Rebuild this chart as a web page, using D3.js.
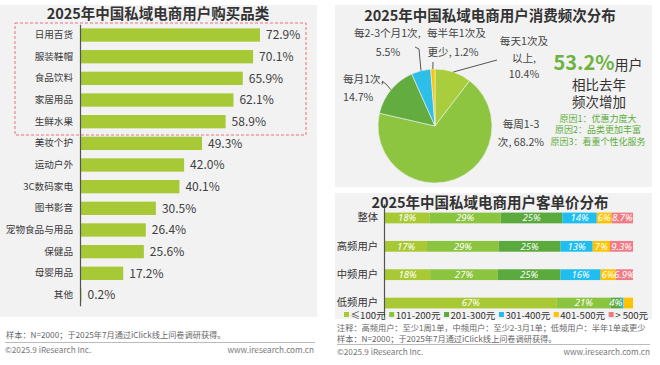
<!DOCTYPE html>
<html><head><meta charset="utf-8">
<script src="https://cdn.jsdelivr.net/npm/d3@7"></script>
<style>
body{margin:0;background:#fff}
svg{display:block;font-family:"Noto Sans CJK SC","Noto Sans",sans-serif}
</style>
</head><body><svg id="c" width="660" height="365"></svg>
<script>
// ---------- data ----------
const categories = ["日用百货","服装鞋帽","食品饮料","家居用品","生鲜水果","美妆个护","运动户外","3C数码家电","图书影音","宠物食品与用品","保健品","母婴用品","其他"];
const shares = [72.9,70.1,65.9,62.1,58.9,49.3,42.0,40.1,30.5,26.4,25.6,17.2,0.2];

const freqLabels = ["每天1次及以上","每周1-3次","每月1次","每2-3个月1次","每半年1次及更少"];
const freqValues = [10.4,68.2,14.7,5.5,1.2];

const groups = ["整体","高频用户","中频用户","低频用户"];
const priceBands = ["≤100元","101-200元","201-300元","301-400元","401-500元","> 500元"];
const price_le100   = [18,17,18,67];
const price_101_200 = [29,29,27,21];
const price_201_300 = [25,25,25,4];
const price_301_400 = [14,13,16,1];
const price_401_500 = [6,7,6,3.7];
const price_gt500   = [8.7,9.3,6.9,0];

const svg = d3.select("#c");
const GRAY = "#f2f2f2";

// ---------- panels ----------
svg.append("rect").attr("x",0).attr("y",5).attr("width",317).attr("height",312).attr("fill",GRAY);
svg.append("rect").attr("x",335).attr("y",5).attr("width",317).attr("height",182).attr("fill",GRAY);
svg.append("rect").attr("x",335).attr("y",193).attr("width",317).attr("height",126).attr("fill",GRAY);

function title(x,y,t){
  svg.append("text").attr("x",x).attr("y",y).attr("text-anchor","middle")
    .attr("font-size",14.5).attr("font-weight",700).attr("fill","#333").text(t);
}

// ---------- left: bar chart ----------
const xL = d3.scaleLinear().domain([0,100]).range([81,326.5]);
const yL = d3.scaleBand().domain(categories).range([24.2,305.8]).paddingInner(0.385).paddingOuter(0.1925);

svg.append("rect").attr("x",15).attr("y",23).attr("width",291).attr("height",112)
  .attr("fill","none").attr("stroke","#e8737f").attr("stroke-width",1).attr("stroke-dasharray","3,2");

svg.append("g").selectAll("rect").data(categories).join("rect")
  .attr("x",xL(0)).attr("y",d=>yL(d)).attr("height",yL.bandwidth())
  .attr("width",(d,i)=>xL(shares[i])-xL(0)).attr("fill","#a7c935");

svg.append("g").selectAll("text").data(categories).join("text")
  .attr("x",(d,i)=>xL(shares[i])+6).attr("y",d=>yL(d)+yL.bandwidth()/2)
  .attr("dy","0.36em").attr("font-size",12).attr("fill","#404040")
  .text((d,i)=>shares[i].toFixed(1)+"%");

const axL = svg.append("g").attr("transform","translate(80,0)")
  .call(d3.axisLeft(yL).tickSize(0).tickPadding(7));
axL.select(".domain").attr("stroke","#555").attr("stroke-width",1.2);
axL.selectAll("text").attr("font-size",9.6).attr("fill","#3a3a3a")
  .attr("font-family",'"Noto Sans CJK SC",sans-serif');

title(158,19,"2025年中国私域电商用户购买品类");

// left footer
svg.append("text").attr("x",6).attr("y",338).attr("font-size",8.2).attr("fill","#666")
  .text("样本：N=2000；于2025年7月通过iClick线上问卷调研获得。");
svg.append("line").attr("x1",5).attr("x2",315).attr("y1",342.5).attr("y2",342.5).attr("stroke","#bbb");
svg.append("text").attr("x",5).attr("y",353).attr("font-size",8.2).attr("fill","#777").text("©2025.9 iResearch Inc.");
svg.append("text").attr("x",314).attr("y",353).attr("text-anchor","end").attr("font-size",8.2).attr("fill","#777").text("www.iresearch.com.cn");

// ---------- right top: pie ----------
title(490,21,"2025年中国私域电商用户消费频次分布");
const pieColors = ["#a9cd3c","#8dc540","#63ad40","#2dbfe8","#fcc500"];
const cx = 435, cy = 126, R = 57;
const pie = d3.pie().sort(null).value(d=>d)(freqValues);
const arc = d3.arc().innerRadius(0).outerRadius(R);
const gP = svg.append("g").attr("transform",`translate(${cx},${cy})`);
gP.selectAll("path").data(pie).join("path").attr("d",arc)
  .attr("fill",(d,i)=>pieColors[i]).attr("stroke","#f2f2f2").attr("stroke-width",0.6);

function edge(d){const a=(d.startAngle+d.endAngle)/2;return [cx+R*Math.sin(a),cy-R*Math.cos(a)];}
const lineG = svg.append("g").attr("fill","none").attr("stroke","#555").attr("stroke-width",1);
{
  const p0 = edge(pie[0]); lineG.append("path").attr("d",`M${p0[0]},${p0[1]}L497,60`);
  const p2 = edge(pie[2]); lineG.append("path").attr("d",`M${p2[0]},${p2[1]}L386,84L382,81`);
  const p3 = edge(pie[3]); lineG.append("path").attr("d",`M${p3[0]},${p3[1]}L419,49L415,47`);
  const p4 = edge(pie[4]); lineG.append("path").attr("d",`M${p4[0]},${p4[1]}L433,62`);
}
function multi(x,y,lines,anchor,lh){
  const t = svg.append("text").attr("x",x).attr("y",y).attr("text-anchor",anchor)
    .attr("font-size",10.6).attr("fill","#444");
  lines.forEach((l,i)=>t.append("tspan").attr("x",x).attr("dy",i?lh:0).text(l));
}
const pct = v=>v.toFixed(1)+"%";
multi(524,45,["每天1次及","以上,",pct(freqValues[0])],"middle",16.5);
multi(521,128,["每周1-3","次, "+pct(freqValues[1])],"middle",18);
multi(343,83,["每月1次,",pct(freqValues[2])],"start",18);
multi(354,37,["每2-3个月1次,"],"start",18);
multi(388,56,[pct(freqValues[3])],"middle",18);
multi(427,37,["每半年1次及"],"start",18);
multi(453,56,["更少, "+pct(freqValues[4])],"middle",18);

// highlight text
{
  const t = svg.append("text").attr("x",598).attr("y",70).attr("text-anchor","middle");
  t.append("tspan").attr("font-size",20).attr("font-weight",700).attr("fill","#6cb33f").text("53.2%");
  t.append("tspan").attr("font-size",14).attr("fill","#333").text("用户");
  svg.append("text").attr("x",599).attr("y",90).attr("text-anchor","middle").attr("font-size",13.5).attr("fill","#333").text("相比去年");
  svg.append("text").attr("x",599).attr("y",107).attr("text-anchor","middle").attr("font-size",13.5).attr("fill","#333").text("频次增加");
  ["原因1：优惠力度大","原因2：品类更加丰富","原因3：看重个性化服务"].forEach((s,i)=>
    svg.append("text").attr("x",598).attr("y",122+i*11.3).attr("text-anchor","middle")
      .attr("font-size",9).attr("fill","#5cae3a").text(s));
}

// ---------- right bottom: stacked bars ----------
const priceSeries = [price_le100,price_101_200,price_201_300,price_301_400,price_401_500,price_gt500];
const priceColors = ["#a9c934","#8bc43f","#5aaa3e","#1fbdf0","#fdc300","#f07b85"];
const xR = d3.scaleLinear().domain([0,1]).range([385,633]);
const yR = d3.scaleBand().domain(groups).range([203.8,317.2]).paddingInner(0.62).paddingOuter(0.31);
const rows = groups.map((g,gi)=>{
  const tot = d3.sum(priceSeries,s=>s[gi]);
  let acc=0;
  return priceSeries.map((s,si)=>{const v=s[gi];const o={g,si,v,x0:acc/tot,x1:(acc+v)/tot};acc+=v;return o;});
}).flat();
svg.append("g").selectAll("rect").data(rows.filter(d=>d.v>0)).join("rect")
  .attr("x",d=>xR(d.x0)).attr("width",d=>xR(d.x1)-xR(d.x0))
  .attr("y",d=>yR(d.g)).attr("height",yR.bandwidth()).attr("fill",d=>priceColors[d.si]);
svg.append("g").selectAll("text").data(rows.filter(d=>d.v>=4)).join("text")
  .attr("x",d=>(xR(d.x0)+xR(d.x1))/2).attr("y",d=>yR(d.g)+yR.bandwidth()/2).attr("dy","0.36em")
  .attr("text-anchor","middle").attr("font-size",9.6).attr("font-style","italic").attr("fill","#fff")
  .attr("font-family","'Noto Sans','DejaVu Sans',sans-serif")
  .text(d=>(Number.isInteger(d.v)?d.v:d.v.toFixed(1))+"%");
const axR = svg.append("g").attr("transform","translate(384,0)")
  .call(d3.axisLeft(yR).tickSize(0).tickPadding(6));
axR.select(".domain").attr("stroke","#555").attr("stroke-width",1.2);
axR.selectAll("text").attr("font-size",10.3).attr("fill","#333")
  .attr("font-family",'"Noto Sans CJK SC",sans-serif');

title(490,208,"2025年中国私域电商用户客单价分布");

// legend
{
  let lx = 344;
  const lg = svg.append("g");
  priceBands.forEach((b,i)=>{
    lg.append("rect").attr("x",lx).attr("y",312).attr("width",5).attr("height",5).attr("fill",priceColors[i]);
    const t = lg.append("text").attr("x",lx+6.5).attr("y",318.5).attr("font-size",9.6).attr("fill","#333").text(b);
    lx += 6.5 + t.node().getComputedTextLength() + 3.5;
  });
}

// right footer
svg.append("text").attr("x",337).attr("y",331).attr("font-size",8.2).attr("fill","#666")
  .text("注释：高频用户：至少1周1单，中频用户：至少2-3月1单；低频用户：半年1单或更少");
svg.append("text").attr("x",337).attr("y",341.5).attr("font-size",8.2).attr("fill","#666")
  .text("样本：N=2000；于2025年7月通过iClick线上问卷调研获得。");
svg.append("line").attr("x1",337).attr("x2",650).attr("y1",344.5).attr("y2",344.5).attr("stroke","#bbb");
svg.append("text").attr("x",337).attr("y",354.5).attr("font-size",8.2).attr("fill","#777").text("©2025.9 iResearch Inc.");
svg.append("text").attr("x",650).attr("y",354.5).attr("text-anchor","end").attr("font-size",8.2).attr("fill","#777").text("www.iresearch.com.cn");
</script>
</body></html>
